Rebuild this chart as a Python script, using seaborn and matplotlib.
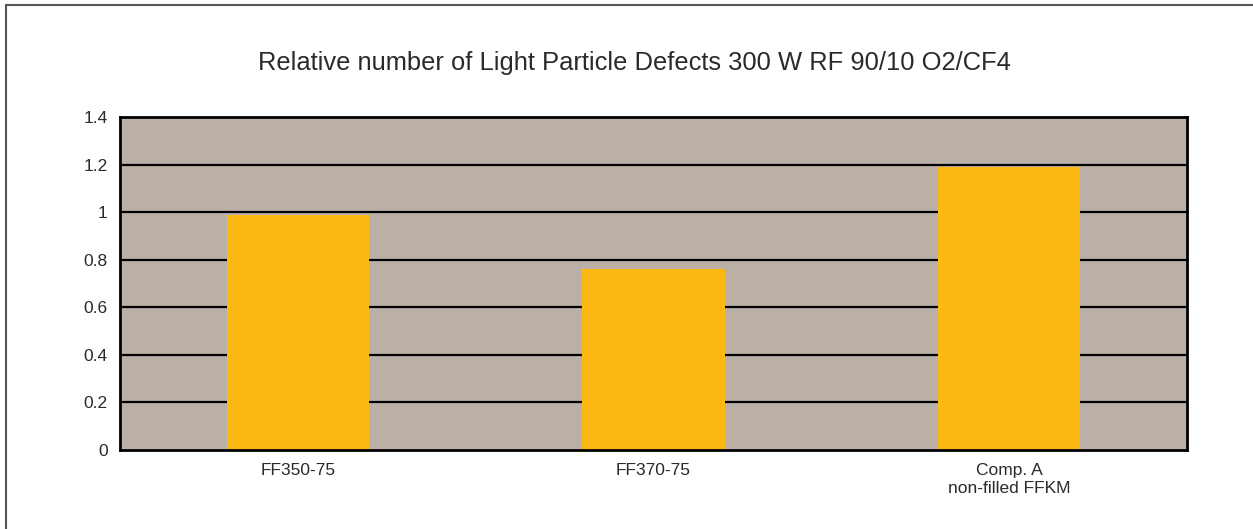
import pandas as pd
import matplotlib.pyplot as plt
import matplotlib.patches as mpatches
import seaborn as sns

categories = ['FF350-75', 'FF370-75', 'Comp. A\nnon-filled FFKM']
values = [0.99, 0.76, 1.19]
yticks = [0, 0.2, 0.4, 0.6, 0.8, 1.0, 1.2, 1.4]
ytick_labels = ['0', '0.2', '0.4', '0.6', '0.8', '1', '1.2', '1.4']
title = 'Relative number of Light Particle Defects 300 W RF 90/10 O2/CF4'

df = pd.DataFrame({'material': categories, 'value': values})

sns.set_style('white')
plt.rcParams['font.family'] = ['Liberation Sans', 'DejaVu Sans']

fig = plt.figure(figsize=(12.53, 5.29), dpi=100)
ax = fig.add_axes([0.0958, 0.1493, 0.8515, 0.6295])

# frame around the whole picture (only top and left show)
fig.patches.append(mpatches.Rectangle((0.005, -0.1), 1.2, 1.09, transform=fig.transFigure,
                                      fill=False, edgecolor='#555555', linewidth=1.5))

ax.set_facecolor('#BBB0A5')
for y in yticks[1:-1]:
    ax.axhline(y, color='black', linewidth=1.6, zorder=1)

sns.barplot(data=df, x='material', y='value', color='#FDB913', width=0.4,
            saturation=1, linewidth=0, ax=ax, zorder=2)

ax.set_ylim(0, 1.4)
ax.set_xlim(-0.5, 2.5)
ax.set_yticks(yticks)
ax.set_yticklabels(ytick_labels)
ax.tick_params(axis='both', length=0, labelsize=12.5, colors='#2a2a2a')
ax.tick_params(axis='y', pad=9)
ax.tick_params(axis='x', pad=9)
for lab in ax.get_xticklabels():
    lab.set_verticalalignment('top')
    lab.set_linespacing(1.3)
ax.set_xlabel('')
ax.set_ylabel('')
for s in ax.spines.values():
    s.set_visible(True)
    s.set_color('black')
    s.set_linewidth(2)

fig.text(0.506, 0.88, title, ha='center', va='center', fontsize=18.4, color='#2a2a2a')

fig.savefig('out.png', dpi=100)
